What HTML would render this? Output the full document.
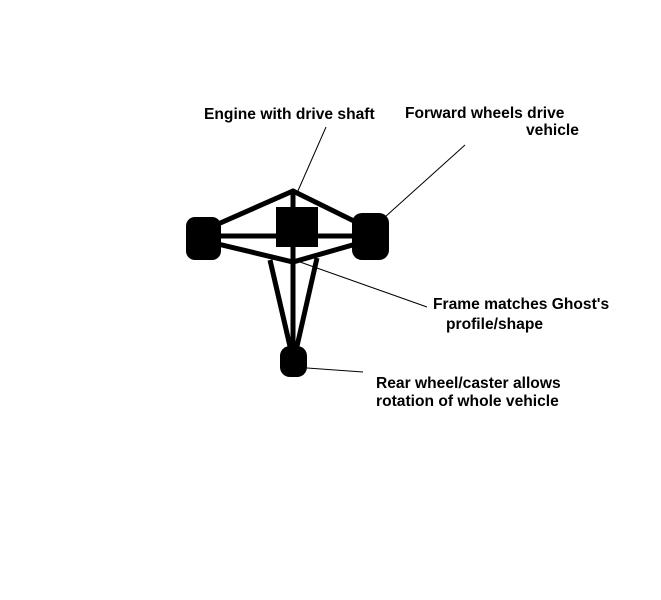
<!DOCTYPE html>
<html><head><style>
body{margin:0;background:#fff;width:661px;height:600px;overflow:hidden}
svg{position:absolute;left:0;top:0}
text{font-family:"Liberation Sans",Arial,sans-serif;font-weight:bold;font-size:15.6px;fill:#000}
</style></head><body>
<svg width="661" height="600" viewBox="0 0 661 600">
<g stroke="#000" stroke-width="5" fill="none" stroke-linejoin="miter">
<polygon points="218,224 293,191 356,222 356,244 293,262 218,244"/>
<line x1="218" y1="236" x2="356" y2="236"/>
<line x1="293" y1="191" x2="293" y2="360"/>
<line x1="270" y1="260" x2="292" y2="355"/>
<line x1="317" y1="258" x2="295" y2="355"/>
</g>
<rect x="276" y="207" width="42" height="40" fill="#000"/>
<rect x="186" y="217" width="35" height="43" rx="9" fill="#000"/>
<rect x="352" y="213" width="37" height="47" rx="10" fill="#000"/>
<rect x="280" y="346" width="27" height="31" rx="10" fill="#000"/>
<g stroke="#000" stroke-width="1">
<line x1="326" y1="127" x2="297" y2="193"/>
<line x1="465" y1="145" x2="385" y2="217"/>
<line x1="300" y1="262" x2="427" y2="307"/>
<line x1="307" y1="368" x2="363" y2="372"/>
</g>
<text x="204" y="119">Engine with drive shaft</text>
<text x="405" y="118">Forward wheels drive</text>
<text x="526" y="135">vehicle</text>
<text x="433" y="309">Frame matches Ghost's</text>
<text x="446" y="329">profile/shape</text>
<text x="376" y="388">Rear wheel/caster allows</text>
<text x="376" y="406">rotation of whole vehicle</text>
</svg>
</body></html>
